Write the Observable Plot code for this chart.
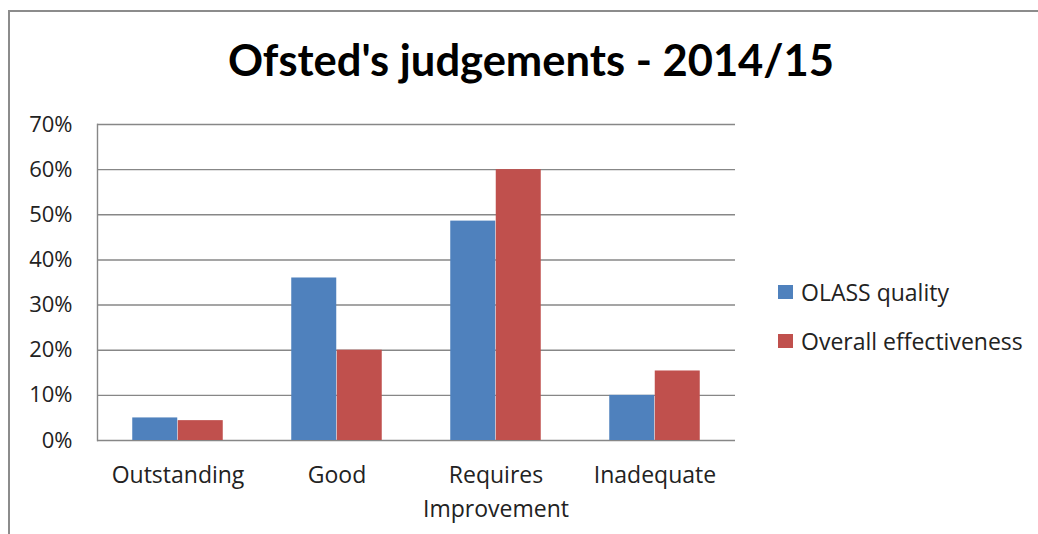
<!DOCTYPE html>
<html><head><meta charset="utf-8">
<script src="https://cdn.jsdelivr.net/npm/d3@7"></script>
<script src="https://cdn.jsdelivr.net/npm/@observablehq/plot@0.6"></script>
<style>
html,body{margin:0;padding:0;background:#fff;overflow:hidden;}
#wrap{position:relative;width:1038px;height:534px;overflow:hidden;font-family:"Open Sans",sans-serif;color:#111;}
#frame{position:absolute;left:8px;top:10px;width:1200px;height:800px;border:2px solid #8c8c8c;}
#title{position:absolute;left:0;width:1062px;top:34px;text-align:center;font-family:Lato,sans-serif;font-weight:bold;font-size:43.5px;line-height:50px;color:#000;}
#chart{position:absolute;left:0;top:0;}
#legend{position:absolute;left:778px;top:277px;font-size:23px;color:#222;}
.item{display:flex;align-items:center;height:30px;margin-bottom:19px;}
.sw{width:15px;height:14px;margin-right:8px;}
</style></head>
<body><div id="wrap"><div id="frame"></div><div id="chart"></div><div id="title">Ofsted's judgements - 2014/15</div><div id="legend"></div></div>
<script>
const categories = ["Outstanding", "Good", "Requires Improvement", "Inadequate"];
const seriesNames = ["OLASS quality", "Overall effectiveness"];
const colors = ["#4F81BD", "#C0504D"];
const olassValues = [0.05, 0.36, 0.486, 0.10];
const overallValues = [0.044, 0.20, 0.60, 0.154];
const yTicks = [0, 0.1, 0.2, 0.3, 0.4, 0.5, 0.6, 0.7];
const categoryLabels = ["Outstanding", "Good", "Requires\nImprovement", "Inadequate"];

const olassData = categories.map((c, i) => ({category: c, series: seriesNames[0], value: olassValues[i]}));
const overallData = categories.map((c, i) => ({category: c, series: seriesNames[1], value: overallValues[i]}));

const plot = Plot.plot({
  width: 1038, height: 534,
  marginLeft: 97, marginRight: 303, marginTop: 124, marginBottom: 94,
  style: {fontFamily: "'Open Sans', sans-serif", background: "transparent", color: "#222"},
  x: {domain: categories, paddingInner: 0.715, paddingOuter: 0.357, label: null},
  y: {domain: [0, 0.7], label: null},
  color: {domain: seriesNames, range: colors},
  marks: [
    Plot.ruleY(yTicks, {stroke: "#878787", strokeWidth: 1.4}),
    Plot.frame({anchor: "left", stroke: "#878787", strokeWidth: 1.4}),
    Plot.barY(olassData, {x: "category", y: "value", fill: "series", dx: -22.75}),
    Plot.barY(overallData, {x: "category", y: "value", fill: "series", dx: 22.75}),
    Plot.axisY({ticks: yTicks, tickFormat: d3.format(".0%"), tickSize: 0, tickPadding: 25, fontSize: 22, label: null, fill: "#222"}),
    Plot.axisX({tickSize: 0, tickPadding: 19, fontSize: 23, lineHeight: 1.45, label: null, fill: "#222",
      tickFormat: d => categoryLabels[categories.indexOf(d)]})
  ]
});
document.getElementById("chart").appendChild(plot);

const legend = document.getElementById("legend");
seriesNames.forEach((s, i) => {
  const item = document.createElement("div");
  item.className = "item";
  const sw = document.createElement("div");
  sw.className = "sw";
  sw.style.background = colors[i];
  const t = document.createElement("span");
  t.textContent = s;
  item.appendChild(sw); item.appendChild(t);
  legend.appendChild(item);
});
</script></body></html>
